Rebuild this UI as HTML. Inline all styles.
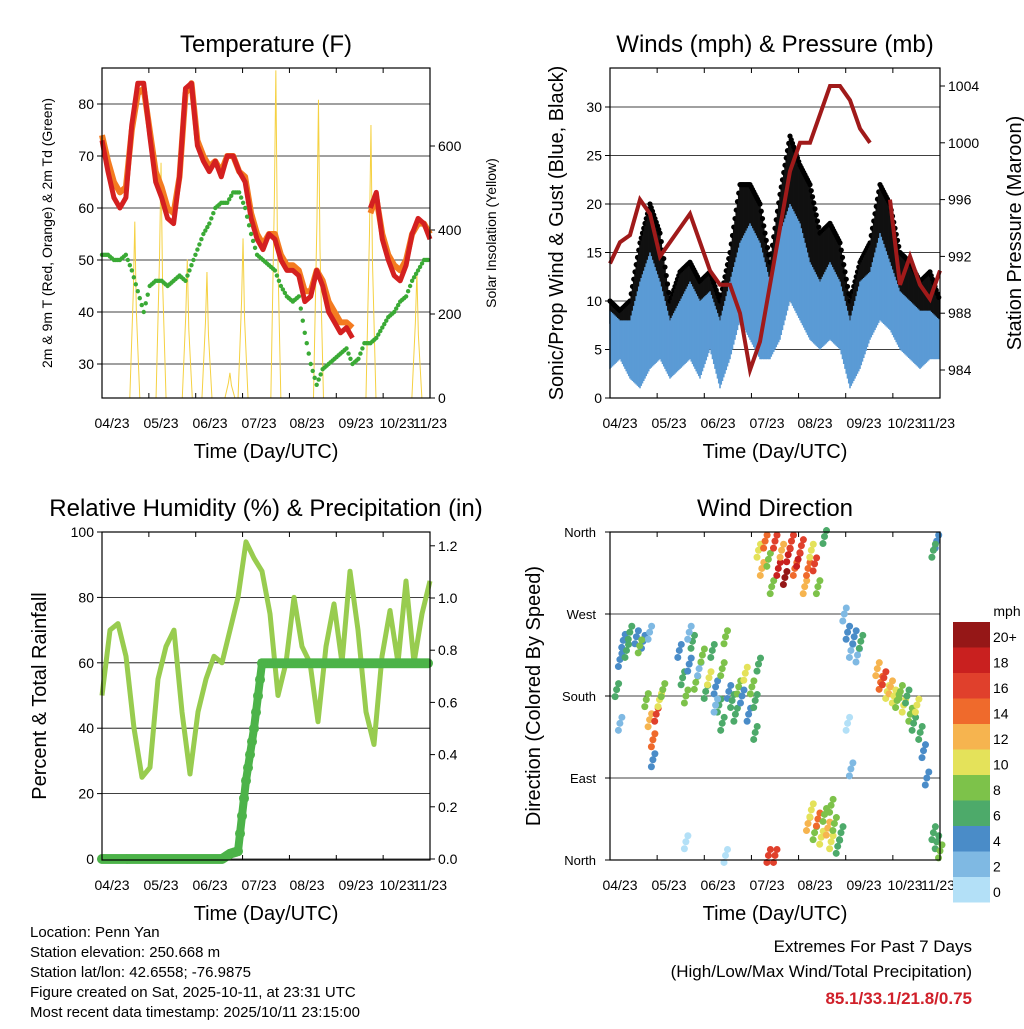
<!DOCTYPE html>
<html><head><meta charset="utf-8"><style>
body{margin:0;background:#fff;width:1024px;height:1024px;overflow:hidden;font-family:"Liberation Sans",sans-serif}
svg text{font-family:"Liberation Sans",sans-serif}
</style></head><body>
<svg id="s" width="1024" height="1024" viewBox="0 0 1024 1024" xmlns="http://www.w3.org/2000/svg">
<g id="g"></g>
<g font-size="15" fill="#000">
<text x="30" y="937">Location: Penn Yan</text>
<text x="30" y="957">Station elevation: 250.668 m</text>
<text x="30" y="977">Station lat/lon: 42.6558; -76.9875</text>
<text x="30" y="997">Figure created on Sat, 2025-10-11, at 23:31 UTC</text>
<text x="30" y="1017">Most recent data timestamp: 2025/10/11 23:15:00</text>
</g>
<g text-anchor="end">
<text x="972" y="952" font-size="17">Extremes For Past 7 Days</text>
<text x="972" y="977" font-size="17">(High/Low/Max Wind/Total Precipitation)</text>
<text x="972" y="1004" font-size="17" font-weight="bold" fill="#d0202a">85.1/33.1/21.8/0.75</text>
</g>
</svg>
<script>
// ---- Temperature data (t = 0..55 evenly over period) ----
const temp2m=[73,67,62,60,62,76,84,84,74,65,62,58,57,66,83,84,72,69,67,69,66,70,70,67,65,58,54,52,55,54,50,48,48,47,42,43,48,45,40,38,36,37,35,null,null,60,63,54,50,47,46,49,55,58,57,54];
const temp9m=[74,69,65,63,64,75,82,83,75,67,64,60,59,66,82,84,73,70,68,69,67,70,70,67,66,59,55,53,55,55,51,49,49,48,44,44,48,46,42,40,38,38,37,null,null,59,62,55,51,49,48,50,55,57,57,55];
const dewpt=[51,51,50,50,51,48,44,40,45,46,46,45,46,47,46,49,52,55,57,60,61,61,63,63,60,55,51,50,49,48,45,43,42,43,36,30,26,29,30,31,32,33,30,31,34,34,35,37,39,40,42,43,46,48,50,50];
const solarPeakT=[10,18,26,32,39,43,53,66,82,96];
const solarPeakV=[420,560,330,300,60,380,780,710,650,300];
// ---- Winds ----
const windLow=[3,4,2,1,3,4,2,3,4,2,5,1,4,8,6,4,4,6,10,8,6,5,6,5,1,3,6,8,7,5,4,3,4,4];
const windHigh=[9,8,8,12,15,12,8,10,12,10,11,8,12,16,18,16,12,17,20,18,14,12,14,12,8,12,13,17,14,11,10,9,9,8];
const gust=[10,9,10,16,20,17,10,13,14,12,13,10,15,22,22,20,14,21,27,24,22,17,18,16,10,14,16,22,20,15,14,12,13,10];
const pressure=[991.5,993,993.5,996,995,992,993,994,995,993,991,990,990,988,984,986,990,994,998,1000,1000,1002,1004,1004,1003,1001,1000,null,996,990,992,990,989,991];
// ---- RH & precip ----
const rh=[50,70,72,62,40,25,28,55,65,70,45,26,45,55,62,60,70,80,97,92,88,75,50,60,80,65,60,42,65,78,60,88,70,45,35,62,76,60,85,60,75,85];
const precip=[0,0,0,0,0,0,0,0,0,0,0,0,0,0,0,0,0.02,0.03,0.3,0.5,0.75,0.75,0.75,0.75,0.75,0.75,0.75,0.75,0.75,0.75,0.75,0.75,0.75,0.75,0.75,0.75,0.75,0.75,0.75,0.75,0.75,0.75];
// ---- Wind direction (t = % of period, deg, speed) ----
const dirT=[2,3,4,6,8,10,12,5,9,11,12,13,14,15,16,13,21,22,23,24,25,26,27,28,29,30,31,32,33,34,35,36,37,38,39,40,41,42,43,44,45,24,32,44,34,45,46,47,48,49,50,51,52,53,54,55,56,57,58,59,60,61,62,63,65,50,60,61,62,63,64,65,66,67,68,69,70,67,71,72,73,74,75,76,72,73,81,82,83,84,85,86,87,88,89,90,91,92,93,94,95,96,98,99,99,100,98,23,35,48,3];
const dirDeg=[187,220,241,250,245,240,250,230,235,176,154,132,160,176,187,110,230,200,180,215,240,195,210,225,185,200,230,190,170,210,245,185,175,160,190,180,205,160,190,175,215,250,170,140,150,340,320,350,330,300,350,320,340,310,335,350,320,330,345,300,320,340,325,300,355,5,40,55,30,45,25,50,35,20,40,15,30,60,270,250,230,245,225,240,150,100,210,195,200,185,190,180,175,185,170,180,160,150,170,140,120,90,30,20,350,10,340,20,5,5,150];
const dirSpd=[6,5,4,6,5,4,3,7,8,8,12,14,16,10,8,4,4,6,8,5,7,9,3,8,6,10,7,4,6,8,9,5,7,6,8,4,11,5,9,7,6,3,2,7,6,10,12,14,9,8,16,18,12,20,18,16,14,18,16,12,14,10,16,8,6,16,12,10,8,14,11,9,12,10,8,7,6,9,3,4,2,5,3,6,1,2,12,14,16,10,12,10,8,9,11,7,8,6,10,7,5,4,6,7,5,8,6,1,1,16,2];
const xTicks=["04/23","05/23","06/23","07/23","08/23","09/23","10/23","11/23"];
const cbLabels=["20+","18","16","14","12","10","8","6","4","2","0"];
const cbColors=["#951717","#c9201f","#e0402c","#ef6a2c","#f6b44f","#e4e25a","#7dc24a","#4daa6a","#4a8cc8","#7fb9e3","#b3e0f7"];

const NS="http://www.w3.org/2000/svg";const G=document.getElementById('g');
function mk(tag,at,parent,txt){const e=document.createElementNS(NS,tag);for(const k in at)e.setAttribute(k,at[k]);if(txt!==undefined)e.textContent=txt;(parent||G).appendChild(e);return e;}
function spdColor(s){let i=Math.min(10,Math.floor(s/2));return cbColors[10-i];}
function panel(x0,y0,x1,y1,name,title,xlab){
  const g=mk('g',{});
  const t=mk('text',{x:(x0+x1)/2,y:y0-16,'text-anchor':'middle','font-size':24},g,title);
  const xl=mk('text',{x:(x0+x1)/2,y:y1+60,'text-anchor':'middle','font-size':20},g,xlab);
  const lx=[x0+10,x0+59,x0+108,x0+157,x0+205,x0+254,x0+295,x0+328];
  xTicks.forEach((s,i)=>{const tx=x0+(x1-x0)*i/7;mk('line',{x1:tx,x2:tx,y1:y1,y2:y1-5,stroke:'#000'},g);mk('line',{x1:tx,x2:tx,y1:y0,y2:y0+5,stroke:'#000'},g);
    const e=mk('text',{x:lx[i],y:y1+30,'text-anchor':'middle','font-size':14},g,s);});
  return g;
}
function box(x0,y0,x1,y1,g){mk('rect',{x:x0,y:y0,width:x1-x0,height:y1-y0,fill:'none',stroke:'#000','stroke-width':1.2},g);}
function leftTicks(g,vals,fy,x0,x1,grid,fmt){vals.forEach(v=>{const y=fy(v);if(grid)mk('line',{x1:x0,x2:x1,y1:y,y2:y,stroke:'#000','stroke-width':0.8},g);mk('line',{x1:x0-5,x2:x0,y1:y,y2:y,stroke:'#000'},g);
  const e=mk('text',{x:x0-8,y:y+5,'text-anchor':'end','font-size':14},g,fmt?fmt(v):v);});}
function rightTicks(g,vals,fy,x1,fmt){vals.forEach(v=>{const y=fy(v);mk('line',{x1:x1,x2:x1+5,y1:y,y2:y,stroke:'#000'},g);
  const e=mk('text',{x:x1+8,y:y+5,'font-size':14},g,fmt?fmt(v):v);});}
function vlabel(g,x,y,txt,size,name){const e=mk('text',{x:x,y:y,'text-anchor':'middle','font-size':size,transform:`rotate(-90 ${x} ${y})`},g,txt);}
function linePath(arr,fx,fy){let d='',pen=false;arr.forEach((v,i)=>{if(v===null){pen=false;return;}d+=(pen?'L':'M')+fx(i).toFixed(1)+' '+fy(v).toFixed(1);pen=true;});return d;}

// ---------- Panel 1 ----------
{const x0=102,x1=430,y0=68,y1=398;const g=panel(x0,y0,x1,y1,'temperature-panel','Temperature (F)','Time (Day/UTC)');
 const fy=v=>104+(80-v)*5.2, fs=v=>398-v*0.42, fx=i=>x0+(x1-x0)*i/(temp2m.length-1), ft=p=>x0+(x1-x0)*p/100;
 leftTicks(g,[30,40,50,60,70,80],fy,x0,x1,true);rightTicks(g,[0,200,400,600],fs,x1);
 const sg=mk('g',{},g);
 solarPeakT.forEach((p,i)=>{const cx=ft(p);mk('path',{d:`M${cx-5} ${fs(0)}L${cx-1.5} ${fs(solarPeakV[i]*0.6)}L${cx} ${fs(solarPeakV[i])}L${cx+1.5} ${fs(solarPeakV[i]*0.5)}L${cx+5} ${fs(0)}`,fill:'none',stroke:'#f5d142','stroke-width':1},sg);});
 const o=mk('path',{d:linePath(temp9m,fx,fy),fill:'none',stroke:'#f47b20','stroke-width':6,'stroke-linejoin':'round'},g);
 const r=mk('path',{d:linePath(temp2m,fx,fy),fill:'none',stroke:'#d42020','stroke-width':5,'stroke-linejoin':'round'},g);
 const dg=mk('g',{},g);
 for(let i=0;i<dewpt.length-1;i++){for(let k=0;k<3;k++){const f=k/3;mk('circle',{cx:fx(i+f),cy:fy(dewpt[i]+(dewpt[i+1]-dewpt[i])*f),r:2.2,fill:'#3aaa35'},dg);}}
 box(x0,y0,x1,y1,g);
 vlabel(g,52,233,'2m & 9m T (Red, Orange) & 2m Td (Green)',14,'y-axis-title');vlabel(g,496,233,'Solar Insolation (Yellow)',14,'y2-axis-title');}

// ---------- Panel 2 ----------
{const x0=610,x1=940,y0=68,y1=398;const g=panel(x0,y0,x1,y1,'winds-panel','Winds (mph) & Pressure (mb)','Time (Day/UTC)');
 const fy=v=>398-v*9.7, fp=v=>370-(v-984)*14.2, fx=i=>x0+(x1-x0)*i/(windLow.length-1);
 leftTicks(g,[0,5,10,15,20,25,30],fy,x0,x1,true);rightTicks(g,[984,988,992,996,1000,1004],fp,x1);
 const gb=mk('g',{},g);
 const wb=mk('g',{},g);
 for(let i=0;i<windLow.length-1;i++){for(let k=0;k<8;k++){const f=k/8;const lo=windLow[i]+(windLow[i+1]-windLow[i])*f,hi=windHigh[i]+(windHigh[i+1]-windHigh[i])*f,gu=gust[i]+(gust[i+1]-gust[i])*f;
   const xx=fx(i+f);
   mk('line',{x1:xx,x2:xx,y1:fy(gu),y2:fy(hi*0.85),stroke:'#111','stroke-width':1.6},gb);
   mk('circle',{cx:xx,cy:fy(gu),r:2.6,fill:'#000'},gb);
   mk('line',{x1:xx,x2:xx,y1:fy(lo),y2:fy(hi),stroke:'#5b9bd5','stroke-width':1.6},wb);}}
 const p=mk('path',{d:linePath(pressure,fx,fp),fill:'none',stroke:'#a01a1a','stroke-width':4},g);
 box(x0,y0,x1,y1,g);
 vlabel(g,563,233,'Sonic/Prop Wind & Gust (Blue, Black)',20,'y-axis-title');vlabel(g,1021,233,'Station Pressure (Maroon)',20,'y2-axis-title');}

// ---------- Panel 3 ----------
{const x0=102,x1=430,y0=532,y1=860;const g=panel(x0,y0,x1,y1,'humidity-precip-panel','Relative Humidity (%) & Precipitation (in)','Time (Day/UTC)');
 const fy=v=>859-v*3.27, fp=v=>859-v*261, fx=i=>x0+(x1-x0)*i/(rh.length-1);
 leftTicks(g,[0,20,40,60,80,100],fy,x0,x1,true);rightTicks(g,[0,0.2,0.4,0.6,0.8,1.0,1.2],fp,x1,v=>v.toFixed(1));
 const h=mk('path',{d:linePath(rh,fx,fy),fill:'none',stroke:'#98cc4f','stroke-width':5,'stroke-linejoin':'round'},g);
 const pg=mk('g',{},g);
 mk('path',{d:linePath(precip,fx,fp),fill:'none',stroke:'#4cb349','stroke-width':8},pg);
 for(let i=0;i<precip.length-1;i++)for(let k=0;k<4;k++){const f=k/4;mk('circle',{cx:fx(i+f),cy:fp(precip[i]+(precip[i+1]-precip[i])*f),r:5,fill:'#4cb349'},pg);}
 box(x0,y0,x1,y1,g);
 vlabel(g,46,696,'Percent & Total Rainfall',20,'y-axis-title');}

// ---------- Panel 4 ----------
{const x0=610,x1=940,y0=532,y1=860;const g=panel(x0,y0,x1,y1,'wind-direction-panel','Wind Direction','Time (Day/UTC)');
 const fy=v=>860-v*328/360, fx=p=>x0+(x1-x0)*p/100;
 const dn=['North','East','South','West','North'];
 [0,90,180,270,360].forEach((v,i)=>{const y=fy(v);mk('line',{x1:x0,x2:x1,y1:y,y2:y,stroke:'#000','stroke-width':0.8},g);mk('line',{x1:x0-5,x2:x0,y1:y,y2:y,stroke:'#000'},g);
   const e=mk('text',{x:x0-14,y:y+5,'text-anchor':'end','font-size':13},g,dn[i]);});
 const dg=mk('g',{},g);
 dirT.forEach((t,i)=>{mk('circle',{cx:fx(t),cy:fy(dirDeg[i]),r:3.5,fill:spdColor(dirSpd[i])},dg);
   mk('circle',{cx:fx(t)+2,cy:fy(dirDeg[i])-6,r:3.5,fill:spdColor(dirSpd[i])},dg);
   mk('circle',{cx:fx(t)-1.5,cy:fy(dirDeg[i])+7,r:3.5,fill:spdColor(dirSpd[i])},dg);});
 box(x0,y0,x1,y1,g);
 vlabel(g,540,696,'Direction (Colored By Speed)',20,'y-axis-title');
 const cb=mk('g',{},G);
 mk('text',{x:1007,y:616,'text-anchor':'middle','font-size':14},cb,'mph');
 cbColors.forEach((c,i)=>{const y=622+i*25.5;mk('rect',{x:953,y:y,width:37,height:25.5,fill:c},cb);
   mk('text',{x:993,y:y+20,'font-size':14},cb,cbLabels[i]);});}
</script>
</body></html>
